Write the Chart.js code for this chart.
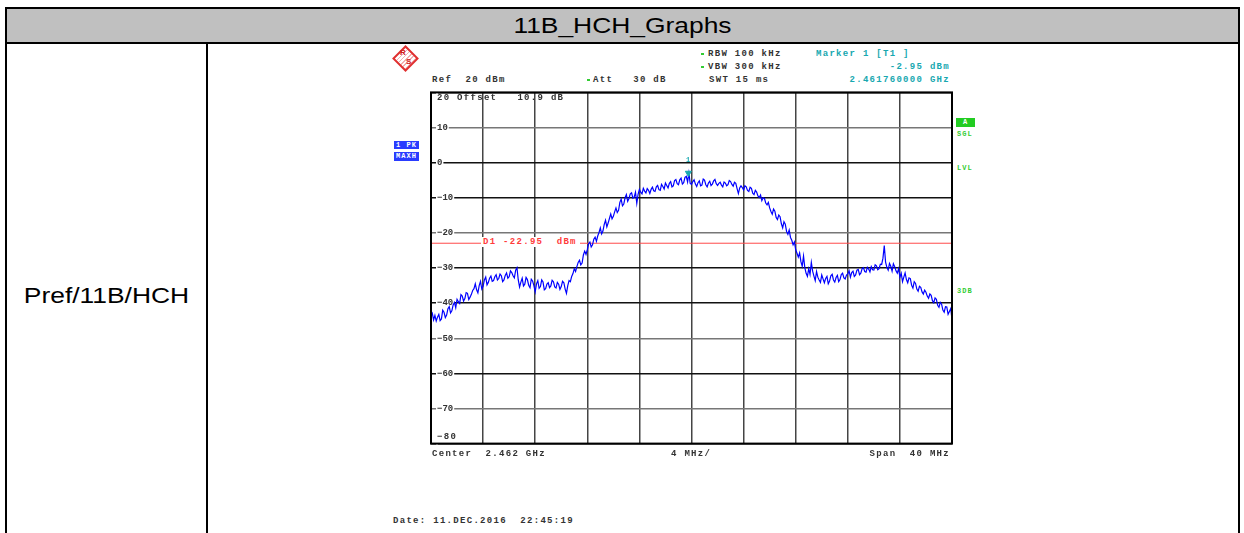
<!DOCTYPE html>
<html>
<head>
<meta charset="utf-8">
<title>11B_HCH_Graphs</title>
<script src="https://cdn.jsdelivr.net/npm/chart.js@4.4.1/dist/chart.umd.min.js"></script>
<style>
  body { margin: 0; background: #fff; }
  #page { position: relative; width: 1244px; height: 533px; overflow: hidden; font-family: "Liberation Sans", Arial, sans-serif; }
  .ln { position: absolute; background: #000; }
  .big { position: absolute; text-align: center; font-size: 22px; line-height: 26px; transform: scaleX(1.2); }
  .m { position: absolute; font: bold 9px "Liberation Mono", monospace; letter-spacing: 1.3px; color: #333; white-space: pre; line-height: 10px; }
  .cy { color: #18a8b0; }
  .gr { color: #33cc33; font-size: 7px; letter-spacing: 1px; }
  .dot { position: absolute; width: 3px; height: 2px; background: #33cc33; }
  .box { position: absolute; background: #2a3cff; color: #fff; font: bold 7px "Liberation Mono", monospace; letter-spacing: 1px; text-align: center; line-height: 8px; }
  #wrap { position: absolute; left: 421px; top: 81px; width: 541px; height: 374px; }
</style>
</head>
<body>
<div id="page">
  <!-- table -->
  <div style="position:absolute;left:7px;top:9px;width:1231px;height:33px;background:#c0c0c0"></div>
  <div class="ln" style="left:5px;top:7px;width:1235px;height:2px"></div>
  <div class="ln" style="left:5px;top:42px;width:1235px;height:2px"></div>
  <div class="ln" style="left:5px;top:7px;width:2px;height:526px"></div>
  <div class="ln" style="left:206px;top:42px;width:2px;height:491px"></div>
  <div class="ln" style="left:1238px;top:7px;width:2px;height:526px"></div>
  <div class="big" style="left:7px;top:13px;width:1231px">11B_HCH_Graphs</div>
  <div class="big" style="left:7px;top:283px;width:199px">Pref/11B/HCH</div>

  <!-- R&S logo -->
  <div style="position:absolute;left:396px;top:49px;width:15px;height:15px;border:2px solid #e03030;transform:rotate(45deg);background:repeating-linear-gradient(90deg,#fff 0 2px,#f4b0b0 2px 3px)"></div>
  <div style="position:absolute;left:400px;top:48px;font:bold 8px 'Liberation Sans';color:#d02020">R</div>
  <div style="position:absolute;left:406px;top:57px;font:bold 8px 'Liberation Sans';color:#d02020">S</div>

  <!-- analyzer header -->
  <div class="m" style="left:432px;top:75px">Ref  20 dBm</div>
  <div class="dot" style="left:587px;top:79px"></div>
  <div class="m" style="left:593px;top:75px">Att   30 dB</div>
  <div class="dot" style="left:701px;top:53px"></div>
  <div class="m" style="left:708px;top:49px">RBW 100 kHz</div>
  <div class="dot" style="left:701px;top:66px"></div>
  <div class="m" style="left:708px;top:62px">VBW 300 kHz</div>
  <div class="m" style="left:709px;top:75px">SWT 15 ms</div>
  <div class="m cy" style="left:816px;top:49px">Marker 1 [T1 ]</div>
  <div class="m cy" style="right:294px;top:62px">-2.95 dBm</div>
  <div class="m cy" style="right:294px;top:75px">2.461760000 GHz</div>

  <!-- side boxes -->
  <div class="box" style="left:394px;top:141px;width:25px;height:8px">1 PK</div>
  <div class="box" style="left:394px;top:152px;width:25px;height:9px;line-height:9px">MAXH</div>
  <div class="box" style="left:956px;top:118px;width:19px;height:9px;line-height:9px;background:#22cc22">A</div>
  <div class="m gr" style="left:957px;top:129px">SGL</div>
  <div class="m gr" style="left:957px;top:163px">LVL</div>
  <div class="m gr" style="left:957px;top:286px">3DB</div>

  <div id="wrap"><canvas id="chart"></canvas></div>

  <!-- overlays on the plot -->
  <div class="m" style="left:437px;top:93px">20 Offset   10.9 dB</div>
  <div class="m" style="left:437px;top:432px">−80</div>
  <div class="m" style="left:481px;top:237px;color:#ff3b3b;background:#fff;padding:0 3px 0 2px">D1 -22.95  dBm</div>
  <div class="m cy" style="left:686px;top:155px;font-size:7px">1</div>

  <!-- footer -->
  <div class="m" style="left:432px;top:449px">Center  2.462 GHz</div>
  <div class="m" style="left:671px;top:449px">4 MHz/</div>
  <div class="m" style="right:294px;top:449px">Span  40 MHz</div>
  <div class="m" style="left:393px;top:516px">Date: 11.DEC.2016  22:45:19</div>
</div>

<script>
// trace 1, max hold, one value every 0.1 MHz from 2442 to 2482 MHz (dBm)
const sweepDbm = [
  -43.6, -42.9, -44.8, -43.5, -45.1, -44.0, -43.2, -45.0, -44.5, -42.0, -42.6, -44.1, -43.4, -41.6, -41.0, -42.8, -42.2, -40.5, -39.8, -41.3,
  -38.9, -39.6, -40.1, -37.6, -38.0, -39.4, -38.7, -37.0, -37.2, -39.0, -38.3, -37.5, -36.4, -35.9, -34.5, -36.2, -37.1, -35.0, -33.8, -36.0,
  -35.2, -33.4, -32.6, -34.8, -34.1, -32.9, -32.3, -33.8, -33.6, -32.5, -31.9, -33.4, -33.0, -31.7, -32.2, -33.9, -33.4, -32.1, -31.4, -32.9,
  -32.5, -30.8, -31.3, -32.2, -32.8, -30.6, -29.9, -33.4, -35.4, -34.0, -32.9, -35.1, -34.6, -32.7, -33.3, -34.9, -35.6, -33.2, -33.7, -35.0,
  -36.8, -34.5, -33.6, -35.8, -35.3, -33.4, -34.0, -36.2, -35.9, -34.6, -34.2, -35.6, -35.1, -33.5, -33.9, -35.4, -35.7, -34.1, -34.6, -36.1,
  -35.3, -33.8, -34.2, -36.0, -37.2, -35.0, -33.6, -33.9, -32.4, -31.6, -30.2, -31.0, -29.6, -28.4, -27.8, -29.1, -28.6, -26.3, -25.2, -26.1,
  -24.8, -23.1, -22.6, -24.0, -23.4, -21.8, -21.2, -22.4, -20.9, -19.9, -18.6, -20.3, -19.5, -17.6, -16.4, -18.3, -17.2, -15.9, -14.6, -16.0,
  -15.3, -14.0, -12.9, -14.2, -13.6, -11.3, -10.4, -12.3, -11.8, -10.0, -9.1, -11.0, -10.2, -8.9, -8.6, -10.1, -9.8, -8.4, -11.6, -9.0,
  -7.6, -8.4, -8.9, -7.3, -8.1, -8.6, -7.4, -7.9, -8.8, -7.6, -7.0, -8.0, -8.2, -6.9, -6.5, -7.7, -7.9, -6.2, -6.8, -7.5,
  -5.8, -6.5, -7.2, -5.9, -5.4, -6.9, -6.6, -5.1, -4.8, -6.0, -6.3, -4.9, -4.4, -6.1, -5.7, -4.2, -3.9, -5.5, -2.95, -5.9,
  -6.2, -5.4, -4.9, -6.1, -6.8, -5.7, -5.2, -6.6, -6.4, -4.7, -5.0, -6.3, -6.9, -5.8, -5.3, -6.5, -6.1, -5.2, -4.8, -6.0,
  -6.5, -5.9, -5.6, -6.4, -6.9, -5.5, -5.8, -6.6, -6.3, -5.1, -5.4, -6.2, -6.7, -5.6, -5.9, -7.4, -8.8, -7.2, -6.6, -7.1,
  -7.8, -6.6, -6.9, -7.9, -8.2, -7.0, -7.3, -8.7, -9.1, -7.9, -8.4, -9.5, -9.9, -9.2, -10.8, -10.0, -10.2, -11.5, -12.0, -11.3,
  -12.9, -13.9, -14.7, -13.2, -13.8, -15.6, -16.2, -14.9, -15.4, -17.4, -18.6, -16.8, -17.5, -19.6, -20.4, -19.2, -21.3, -22.1, -23.4, -22.6,
  -24.8, -25.8, -26.9, -25.7, -28.2, -29.5, -26.6, -29.9, -31.5, -32.4, -30.2, -31.8, -28.4, -30.9, -32.3, -33.6, -31.0, -32.6, -33.4, -34.1,
  -32.0, -33.1, -34.2, -33.0, -32.4, -34.5, -33.7, -32.2, -31.8, -33.4, -34.0, -32.7, -32.1, -33.9, -33.3, -31.9, -31.5, -32.8, -33.1, -32.0,
  -31.7, -30.8, -32.6, -31.3, -30.9, -32.4, -32.0, -30.6, -30.4, -31.9, -31.5, -30.2, -29.9, -31.0, -31.2, -29.8, -30.3, -31.1, -29.6, -30.5,
  -30.6, -29.1, -29.4, -30.5, -30.2, -28.9, -29.0, -27.2, -23.6, -28.3, -29.8, -30.6, -28.7, -29.5, -30.9, -28.8, -29.6, -30.8, -31.5, -30.2,
  -32.6, -31.5, -33.9, -32.6, -31.4, -33.3, -34.2, -32.8, -33.0, -34.9, -35.7, -33.9, -34.4, -36.0, -36.6, -35.2, -35.5, -36.8, -37.4, -36.3,
  -36.9, -38.0, -38.6, -37.4, -37.8, -39.3, -39.9, -38.5, -38.9, -40.6, -41.2, -39.8, -40.3, -42.0, -42.6, -41.0, -41.1, -43.2, -42.4, -41.6,
  -44.6
];
const sweepMHz = sweepDbm.map((_, i) => 2442 + i * 0.1);

const displayLineDbm = -22.95;
const markerMHz = 2461.76;
const markerDbm = -2.95;

const yTicks = [20, 10, 0, -10, -20, -30, -40, -50, -60, -70, -80];
const yTickText = ['', '10', '0', '−10', '−20', '−30', '−40', '−50', '−60', '−70', ''];
const xTicks = [2442, 2446, 2450, 2454, 2458, 2462, 2466, 2470, 2474, 2478, 2482];
const grayRows = [10, -20, -50, -70];

const frame = {
  id: 'frame',
  afterDatasetsDraw(chart) {
    const { ctx, chartArea: a } = chart;
    ctx.save();
    ctx.strokeStyle = '#000';
    ctx.lineWidth = 2;
    ctx.strokeRect(a.left, a.top, a.right - a.left, a.bottom - a.top);
    ctx.restore();
  }
};

new Chart(document.getElementById('chart'), {
  type: 'scatter',
  data: {
    datasets: [
      {
        data: sweepMHz.map((f, i) => ({ x: f, y: sweepDbm[i] })),
        showLine: true,
        borderColor: '#0000ff',
        borderWidth: 1.2,
        pointRadius: 0,
        order: 2
      },
      {
        data: [{ x: xTicks[0], y: displayLineDbm }, { x: xTicks[xTicks.length - 1], y: displayLineDbm }],
        showLine: true,
        borderColor: '#ff4a4a',
        borderWidth: 1,
        pointRadius: 0,
        order: 3
      },
      {
        data: [{ x: markerMHz, y: markerDbm }],
        pointStyle: 'triangle',
        rotation: 180,
        pointRadius: 3.5,
        backgroundColor: '#18a8b0',
        borderColor: '#18a8b0',
        order: 1
      }
    ]
  },
  options: {
    responsive: true,
    maintainAspectRatio: false,
    animation: false,
    layout: { padding: 10 },
    plugins: { legend: { display: false }, tooltip: { enabled: false } },
    scales: {
      x: {
        type: 'linear',
        min: xTicks[0],
        max: xTicks[xTicks.length - 1],
        afterBuildTicks: s => { s.ticks = xTicks.map(v => ({ value: v })); },
        afterFit: s => { s.height = 0; },
        ticks: { display: false },
        grid: { color: '#444', lineWidth: 1.5, drawTicks: false },
        border: { display: false }
      },
      y: {
        min: yTicks[yTicks.length - 1],
        max: yTicks[0],
        afterBuildTicks: s => { s.ticks = yTicks.map(v => ({ value: v })); },
        afterFit: s => { s.width = 0; },
        ticks: {
          mirror: true,
          padding: 6,
          color: '#333',
          font: { family: 'Liberation Mono', size: 9, weight: 'bold' },
          callback: v => yTickText[yTicks.indexOf(v)],
          showLabelBackdrop: true,
          backdropColor: '#fff',
          backdropPadding: { top: 0, bottom: 0, left: 1, right: 1 }
        },
        grid: {
          color: c => grayRows.includes(c.tick && c.tick.value) ? '#777' : '#111',
          lineWidth: 1.4,
          drawTicks: false
        },
        border: { display: false }
      }
    }
  },
  plugins: [frame]
});
</script>
</body>
</html>
